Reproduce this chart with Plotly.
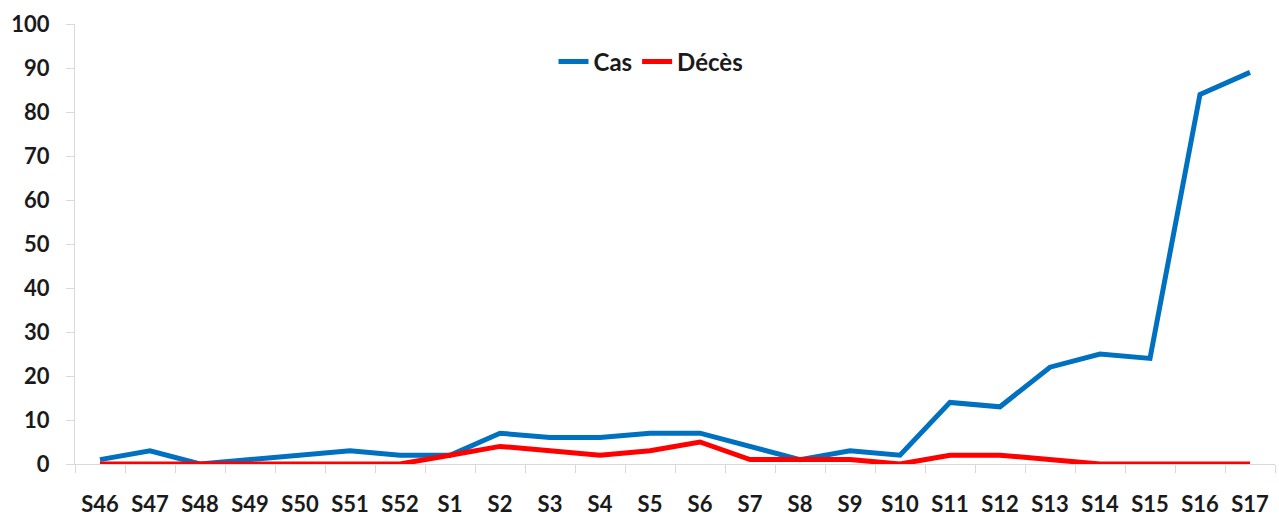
import plotly.graph_objects as go

weeks = ["S46", "S47", "S48", "S49", "S50", "S51", "S52", "S1", "S2", "S3", "S4", "S5",
         "S6", "S7", "S8", "S9", "S10", "S11", "S12", "S13", "S14", "S15", "S16", "S17"]
cas = [1, 3, 0, 1, 2, 3, 2, 2, 7, 6, 6, 7, 7, 4, 1, 3, 2, 14, 13, 22, 25, 24, 84, 89]
deces = [0, 0, 0, 0, 0, 0, 0, 2, 4, 3, 2, 3, 5, 1, 1, 1, 0, 2, 2, 1, 0, 0, 0, 0]

fig = go.Figure()
fig.add_trace(go.Scatter(x=weeks, y=cas, mode="lines", name="Cas",
                         line=dict(color="#0070C0", width=5)))
fig.add_trace(go.Scatter(x=weeks, y=deces, mode="lines", name="Décès",
                         line=dict(color="#FF0000", width=5)))

font = dict(family="Lato", size=22, color="#1a1a1a", weight="bold")
fig.update_layout(
    width=1279, height=516,
    margin=dict(l=75, r=4, t=24, b=52),
    paper_bgcolor="white", plot_bgcolor="white",
    font=font,
    showlegend=True,
    legend=dict(orientation="h", x=0.48, y=0.914, xanchor="center", yanchor="middle",
                font=dict(family="Lato", size=24, color="#1a1a1a", weight="bold"),
                bgcolor="rgba(0,0,0,0)", itemwidth=30, tracegroupgap=0),
)
fig.update_xaxes(type="category", showgrid=False, showline=True, linecolor="#d9d9d9",
                 linewidth=1, ticks="outside", tickson="boundaries", ticklen=8,
                 tickcolor="#d9d9d9", tickfont=font, range=[-0.5, 23.5],
                 ticklabelstandoff=21, zeroline=False, automargin=False)
fig.update_yaxes(range=[0, 100], dtick=10, showgrid=False, showline=True,
                 linecolor="#d9d9d9", linewidth=1, ticks="outside", ticklen=8,
                 tickcolor="#d9d9d9", tickfont=font, ticklabelstandoff=12, zeroline=False,
                 automargin=False)

fig.write_html("out.html")
